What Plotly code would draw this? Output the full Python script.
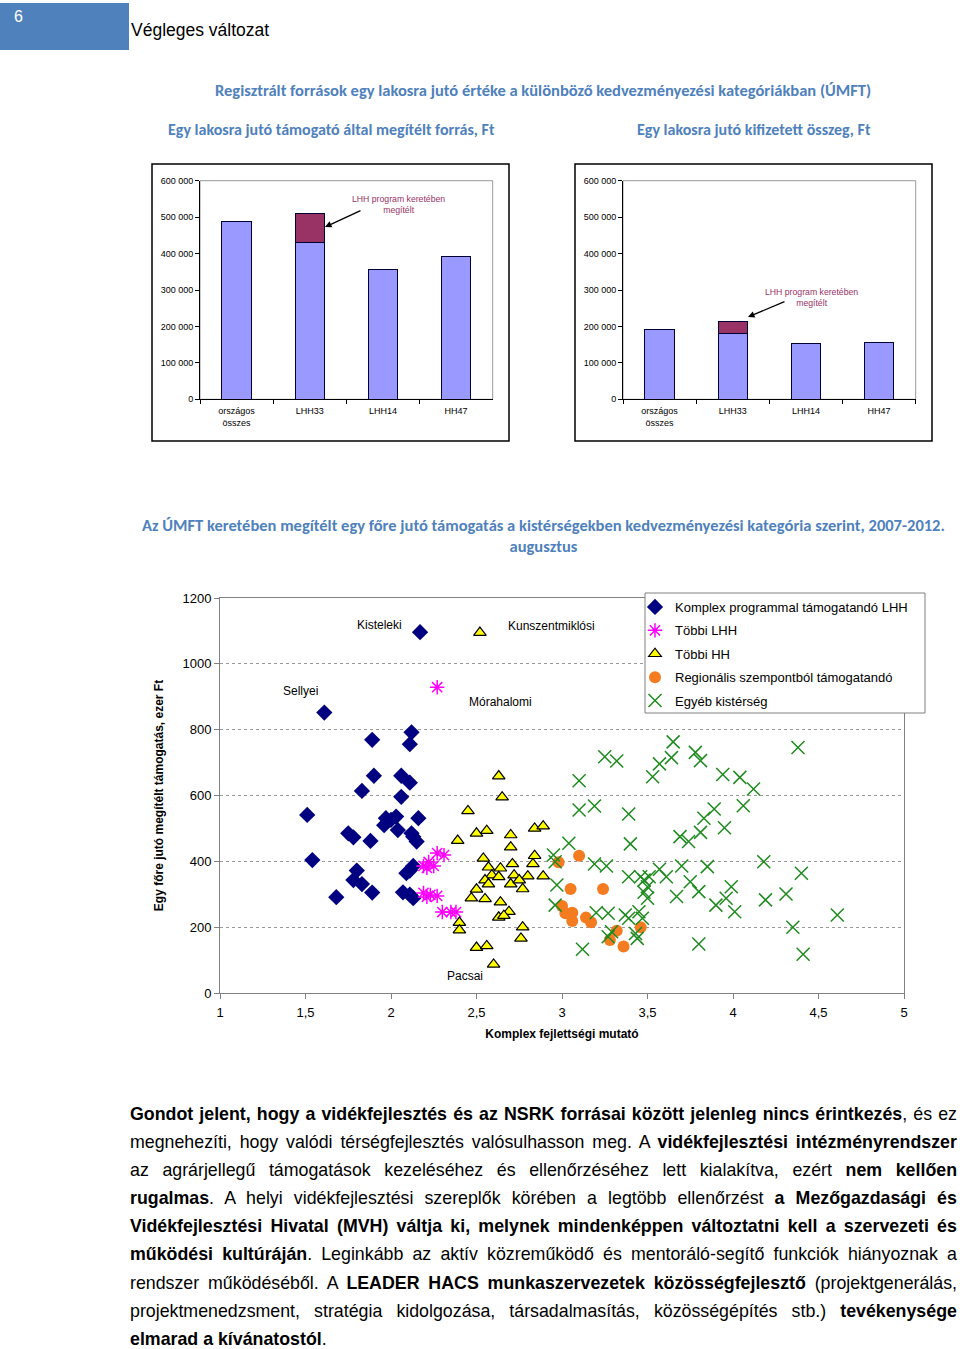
import plotly.graph_objects as go

W, H = 960, 1349
def px(x): return x / W
def py(y): return 1 - y / H

# ---------------- data ----------------
bar_categories = ["országos<br>összes", "LHH33", "LHH14", "HH47"]
megitelt_base = [487000, 430000, 355000, 393000]
megitelt_lhh = [0, 79000, 0, 0]
kifizetett_base = [192000, 181000, 154500, 156500]
kifizetett_lhh = [0, 32000, 0, 0]
bar_tickvals = [0, 100000, 200000, 300000, 400000, 500000, 600000]
bar_ticktext = ["0", "100 000", "200 000", "300 000", "400 000", "500 000", "600 000"]

komplex_x = [2.17, 1.61, 1.89, 2.12, 2.11, 1.90, 2.06, 2.11, 1.83, 2.06, 1.51, 2.16, 1.97, 2.03, 1.96,
             2.04, 2.00, 1.75, 1.78, 1.88, 2.12, 2.13, 2.15, 1.54, 2.13, 2.11, 2.09, 1.80, 1.78, 1.83,
             1.89, 1.68, 2.07, 2.11, 2.13]
komplex_y = [1096, 852, 769, 792, 756, 660, 660, 639, 614, 596, 541, 531, 531, 536, 510,
             495, 526, 485, 473, 462, 485, 475, 460, 404, 386, 372, 364, 372, 343, 331,
             305, 291, 306, 299, 288]

tobbi_lhh_x = [2.27, 2.27, 2.31, 2.22, 2.25, 2.21, 2.19, 2.19, 2.23, 2.27, 2.21, 2.30, 2.35, 2.38]
tobbi_lhh_y = [929, 425, 419, 398, 386, 380, 386, 304, 298, 295, 292, 246, 246, 246]

tobbi_hh_x = [2.52, 2.63, 2.65, 2.45, 2.84, 2.89, 2.50, 2.56, 2.39, 2.70, 2.70, 2.84, 2.54, 2.71,
              2.64, 2.57, 2.83, 2.59, 2.63, 2.55, 2.57, 2.72, 2.70, 2.80, 2.89, 2.75, 2.77, 2.50,
              2.47, 2.55, 2.64, 2.69, 2.63, 2.66, 2.40, 2.40, 2.77, 2.76, 2.50, 2.56, 2.60]
tobbi_hh_y = [1095, 659, 595, 553, 500, 507, 485, 493, 463, 480, 443, 417, 409, 392,
              379, 382, 392, 358, 353, 343, 331, 358, 331, 355, 355, 343, 316, 315,
              288, 286, 276, 247, 230, 235, 214, 191, 200, 166, 138, 143, 87]

regionalis_x = [3.10, 2.98, 3.05, 3.24, 3.00, 3.02, 3.06, 3.06, 3.14, 3.17, 3.32, 3.28, 3.36, 3.46]
regionalis_y = [417, 397, 316, 316, 264, 242, 244, 219, 229, 215, 189, 161, 141, 200]

egyeb_x = [3.25, 3.32, 3.10, 3.10, 3.19, 3.39, 3.04, 3.40, 2.95, 2.96, 3.19, 3.26, 2.97, 2.96,
           3.20, 3.27, 3.39, 3.46, 3.37, 3.39, 3.45, 3.47, 3.29, 3.27, 3.43, 3.44, 3.12, 3.65,
           3.64, 3.57, 3.53, 3.78, 3.81, 3.94, 4.04, 4.12, 4.38, 4.06, 3.89, 3.83, 3.95, 3.81,
           3.69, 3.74, 3.85, 3.70, 4.18, 4.40, 3.57, 3.61, 3.51, 3.48, 3.50, 3.75, 3.80, 3.67,
           3.99, 3.96, 3.90, 4.01, 4.19, 4.31, 4.61, 4.35, 4.41, 3.80, 3.48, 3.50]
egyeb_y = [718, 705, 645, 556, 568, 544, 455, 453, 419, 399, 392, 386, 328, 267,
           244, 242, 353, 353, 237, 227, 247, 227, 186, 171, 181, 166, 133, 763,
           715, 696, 657, 731, 706, 664, 655, 620, 746, 569, 559, 531, 502, 488,
           475, 460, 384, 386, 399, 364, 376, 353, 353, 343, 323, 338, 308, 293,
           323, 288, 267, 247, 283, 301, 237, 200, 118, 149, 306, 288]

sc_xtickvals = [1, 1.5, 2, 2.5, 3, 3.5, 4, 4.5, 5]
sc_xticktext = ["1", "1,5", "2", "2,5", "3", "3,5", "4", "4,5", "5"]
sc_ytickvals = [0, 200, 400, 600, 800, 1000, 1200]

labels = ["Kisteleki", "Kunszentmiklósi", "Sellyei", "Mórahalomi", "Pacsai"]
labels_x = [1.93, 2.94, 1.47, 2.64, 2.43]
labels_y = [1118, 1115, 917, 884, 52]

# ---------------- styles ----------------
FONT = "Liberation Sans, Arial, sans-serif"
TFONT = "Carlito, Liberation Sans, Arial, sans-serif"
TITLE_BLUE = "#4F81BD"
BAR_FILL = "#9999FF"
BAR_DARK = "#993366"

fig = go.Figure()

# bar charts
for i, (base, extra) in enumerate([(megitelt_base, megitelt_lhh), (kifizetett_base, kifizetett_lhh)]):
    xa = "x" if i == 0 else "x2"
    ya = "y" if i == 0 else "y2"
    fig.add_trace(go.Bar(x=bar_categories, y=base, xaxis=xa, yaxis=ya, width=0.4,
                         marker=dict(color=BAR_FILL, line=dict(color="#000033", width=1)),
                         showlegend=False, hoverinfo="skip"))
    fig.add_trace(go.Bar(x=bar_categories, y=extra, xaxis=xa, yaxis=ya, width=0.4,
                         marker=dict(color=BAR_DARK, line=dict(color="#000033", width=1)),
                         showlegend=False, hoverinfo="skip"))

# scatter
fig.add_trace(go.Scatter(x=komplex_x, y=komplex_y, mode="markers", xaxis="x3", yaxis="y3",
                         name="Komplex programmal támogatandó LHH", legendgroup="a",
                         marker=dict(symbol="diamond", size=12.5, color="#000080")))
fig.add_trace(go.Scatter(x=tobbi_lhh_x, y=tobbi_lhh_y, mode="markers", xaxis="x3", yaxis="y3",
                         name="Többi LHH", legendgroup="b",
                         marker=dict(symbol="asterisk-open", size=12, color="#FF00FF",
                                     line=dict(color="#FF00FF", width=1.5))))
fig.add_trace(go.Scatter(x=tobbi_hh_x, y=tobbi_hh_y, mode="markers", xaxis="x3", yaxis="y3",
                         name="Többi HH", legendgroup="c",
                         marker=dict(symbol="triangle-up", size=11, color="#FFFF00",
                                     line=dict(color="#000000", width=1.2))))
fig.add_trace(go.Scatter(x=regionalis_x, y=regionalis_y, mode="markers", xaxis="x3", yaxis="y3",
                         name="Regionális szempontból támogatandó", legendgroup="d",
                         marker=dict(symbol="circle", size=12, color="#F47B20")))
fig.add_trace(go.Scatter(x=egyeb_x, y=egyeb_y, mode="markers", xaxis="x3", yaxis="y3",
                         name="Egyéb kistérség", legendgroup="e",
                         marker=dict(symbol="x-thin-open", size=13, color="#1F8A1F",
                                     line=dict(color="#1F8A1F", width=1.5))))

bar_y_common = dict(range=[0, 600000], tickvals=bar_tickvals, ticktext=bar_ticktext,
                    showgrid=False, zeroline=False, showline=True, linecolor="black", linewidth=1,
                    ticks="outside", ticklen=4, tickcolor="black", automargin=False,
                    tickfont=dict(family=FONT, size=9, color="black"), fixedrange=True)
bar_x_common = dict(showgrid=False, showline=True, linecolor="black", linewidth=1,
                    ticks="outside", tickson="boundaries", ticklen=4, tickcolor="black",
                    automargin=False, ticklabelstandoff=3,
                    tickfont=dict(family=FONT, size=9, color="black"), fixedrange=True)

left_dom_x = [px(200), px(492.7)]
right_dom_x = [px(623), px(915.7)]
bar_dom_y = [py(399.3), py(180.7)]
sc_dom_x = [px(220), px(904)]
sc_dom_y = [py(993), py(598)]

fig.update_layout(
    template="none",
    width=W, height=H, autosize=False,
    margin=dict(l=0, r=0, t=0, b=0, pad=0, autoexpand=False),
    paper_bgcolor="white", plot_bgcolor="white",
    barmode="stack", showlegend=True,
    xaxis=dict(domain=left_dom_x, anchor="y", **bar_x_common),
    yaxis=dict(domain=bar_dom_y, anchor="x", **bar_y_common),
    xaxis2=dict(domain=right_dom_x, anchor="y2", **bar_x_common),
    yaxis2=dict(domain=bar_dom_y, anchor="x2", **bar_y_common),
    xaxis3=dict(domain=sc_dom_x, anchor="y3", range=[1, 5], tickvals=sc_xtickvals,
                ticktext=sc_xticktext, showgrid=False, zeroline=False, showline=True,
                mirror=True, linecolor="#808080", linewidth=1, ticks="outside", ticklen=5,
                tickcolor="#808080", tickfont=dict(family=FONT, size=13, color="black"),
                automargin=False, ticklabelstandoff=2,
                title=dict(text="<b>Komplex fejlettségi mutató</b>", standoff=11,
                           font=dict(family=FONT, size=12, color="black")), fixedrange=True),
    yaxis3=dict(domain=sc_dom_y, anchor="x3", range=[0, 1200], tickvals=sc_ytickvals,
                showgrid=True, gridcolor="#999999", griddash="dot", gridwidth=1,
                zeroline=False, showline=True, mirror=True, linecolor="#808080", linewidth=1,
                ticks="outside", ticklen=5, tickcolor="#808080", automargin=False,
                tickfont=dict(family=FONT, size=13, color="black"),
                title=dict(text="<b>Egy főre jutó megítélt támogatás, ezer Ft</b>", standoff=16,
                           font=dict(family=FONT, size=12, color="black")), fixedrange=True),
    legend=dict(x=px(635), y=py(592), xanchor="left", yanchor="top",
                bgcolor="rgba(0,0,0,0)", borderwidth=0,
                font=dict(family=FONT, size=13, color="black"),
                tracegroupgap=3.5, itemclick=False, itemdoubleclick=False),
)

shapes = []
# header blue box
shapes.append(dict(type="rect", xref="paper", yref="paper", x0=px(0), x1=px(129), y0=py(50), y1=py(3),
                   fillcolor="#4F81BD", line=dict(width=0)))
# bar chart outer boxes
for (x0, x1) in [(152, 509), (575, 932)]:
    shapes.append(dict(type="rect", xref="paper", yref="paper", x0=px(x0), x1=px(x1), y0=py(441), y1=py(164),
                       line=dict(color="black", width=1.5), fillcolor="rgba(0,0,0,0)"))
# bar plot area grey frame
for dom in [left_dom_x, right_dom_x]:
    shapes.append(dict(type="rect", xref="paper", yref="paper", x0=dom[0], x1=dom[1],
                       y0=bar_dom_y[0], y1=bar_dom_y[1], line=dict(color="#999999", width=1),
                       layer="below"))
# legend box
shapes.append(dict(type="rect", xref="paper", yref="paper", x0=px(645), x1=px(925), y0=py(713), y1=py(593),
                   fillcolor="white", line=dict(color="#808080", width=1), layer="above"))

annotations = []
annotations.append(dict(xref="paper", yref="paper", x=px(12), y=py(17), xanchor="left", yanchor="middle",
                        text="6", showarrow=False, font=dict(family=FONT, size=16, color="white")))
annotations.append(dict(xref="paper", yref="paper", x=px(129), y=py(30), xanchor="left", yanchor="middle",
                        text="Végleges változat", showarrow=False, font=dict(family=FONT, size=17.5, color="black")))
annotations.append(dict(xref="paper", yref="paper", x=px(543), y=py(90), xanchor="center", yanchor="middle",
                        text="<b>Regisztrált források egy lakosra jutó értéke a különböző kedvezményezési kategóriákban (ÚMFT)</b>",
                        showarrow=False, font=dict(family=TFONT, size=16.5, color=TITLE_BLUE)))
annotations.append(dict(xref="paper", yref="paper", x=px(331), y=py(129), xanchor="center", yanchor="middle",
                        text="<b>Egy lakosra jutó támogató által megítélt forrás, Ft</b>",
                        showarrow=False, font=dict(family=TFONT, size=16, color=TITLE_BLUE)))
annotations.append(dict(xref="paper", yref="paper", x=px(754), y=py(129), xanchor="center", yanchor="middle",
                        text="<b>Egy lakosra jutó kifizetett összeg, Ft</b>",
                        showarrow=False, font=dict(family=TFONT, size=16, color=TITLE_BLUE)))
annotations.append(dict(xref="paper", yref="paper", x=px(543), y=py(536), xanchor="center", yanchor="middle",
                        text="<b>Az ÚMFT keretében megítélt egy főre jutó támogatás a kistérségekben kedvezményezési kategória szerint, 2007-2012.</b><br><b>augusztus</b>",
                        showarrow=False, font=dict(family=TFONT, size=16.5, color=TITLE_BLUE)))
# LHH program notes + arrows
for (tx, ty, hx, hy, tailx, taily) in [(398, 205, 325, 227, 362, 210), (811, 297, 748, 317, 786, 301)]:
    annotations.append(dict(xref="paper", yref="paper", x=px(tx), y=py(ty), xanchor="center", yanchor="middle",
                            text="LHH program keretében<br>megítélt", showarrow=False,
                            font=dict(family=FONT, size=8.7, color="#993366")))
    annotations.append(dict(xref="paper", yref="paper", x=px(hx), y=py(hy), text="", showarrow=True,
                            ax=tailx - hx, ay=taily - hy, arrowhead=2, arrowsize=1, arrowwidth=1.3,
                            arrowcolor="black"))
# scatter point labels
for t, lx, ly in zip(labels, labels_x, labels_y):
    annotations.append(dict(xref="x3", yref="y3", x=lx, y=ly, text=t, showarrow=False,
                            xanchor="center", yanchor="middle",
                            font=dict(family=FONT, size=12, color="black")))

# bottom paragraph
para_lines = [
    "<b>Gondot jelent, hogy a vidékfejlesztés és az NSRK forrásai között jelenleg nincs érintkezés</b>, és ez",
    "megnehezíti, hogy valódi térségfejlesztés valósulhasson meg. A <b>vidékfejlesztési intézményrendszer</b>",
    "az agrárjellegű támogatások kezeléséhez és ellenőrzéséhez lett kialakítva, ezért <b>nem kellően</b>",
    "<b>rugalmas</b>. A helyi vidékfejlesztési szereplők körében a legtöbb ellenőrzést <b>a Mezőgazdasági és</b>",
    "<b>Vidékfejlesztési Hivatal (MVH) váltja ki, melynek mindenképpen változtatni kell a szervezeti és</b>",
    "<b>működési kultúráján</b>. Leginkább az aktív közreműködő és mentoráló-segítő funkciók hiányoznak a",
    "rendszer működéséből. A <b>LEADER HACS munkaszervezetek közösségfejlesztő</b> (projektgenerálás,",
    "projektmenedzsment, stratégia kidolgozása, társadalmasítás, közösségépítés stb.) <b>tevékenysége</b>",
    "<b>elmarad a kívánatostól</b>.",
]
para_y = [1114, 1142, 1170, 1198, 1226, 1254, 1283, 1311, 1339]
for t, yy in zip(para_lines, para_y):
    annotations.append(dict(xref="paper", yref="paper", x=px(128), y=py(yy), xanchor="left", yanchor="middle",
                            align="left", text=t, showarrow=False,
                            font=dict(family=FONT, size=17.8, color="black")))

fig.update_layout(shapes=shapes, annotations=annotations)

# justify the paragraph lines (all except the last) to the text block width
justify_js = """
var gd=document.getElementById('{plot_id}');
gd.style.position='fixed';gd.style.top='0px';gd.style.left='0px';
gd.querySelectorAll('text.annotation-text').forEach(function(t){
  var r=t.getBoundingClientRect();
  var s=t.textContent;
  if(r.top>1090 && s.indexOf('elmarad a kívánatos')!==0){
    var n=(s.match(/ /g)||[]).length;
    var len=r.width;
    if(n>0 && len<827){ t.style.wordSpacing=((827-len)/n)+'px'; }
  }
});
"""
fig.write_html("out.html", config={"displayModeBar": False},
               post_script="document.body.style.margin='0px';document.body.style.padding='0px';"
                           "document.documentElement.style.overflow='hidden';" + justify_js)
